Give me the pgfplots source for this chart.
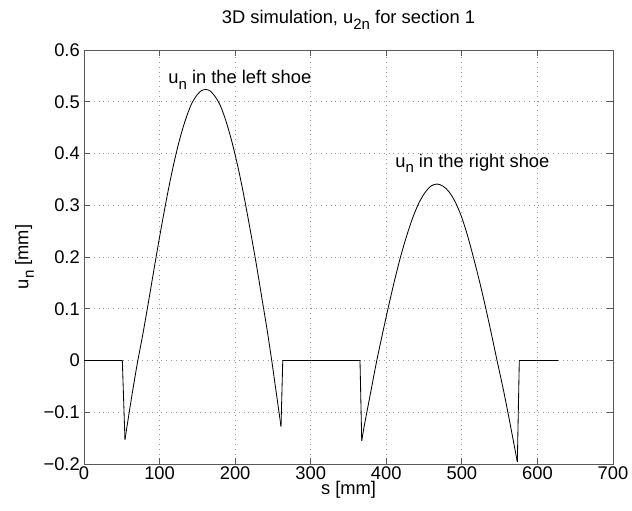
\documentclass[border=0pt]{standalone}
\usepackage{fontspec}
\setmainfont{Liberation Sans}
\usepackage{pgfplots}
\pgfplotsset{compat=1.18}
\newcommand{\fs}{\fontsize{11}{13}\selectfont}
\newcommand{\sub}[1]{\raisebox{-0.55ex}{\fontsize{9}{10}\selectfont #1}}
\begin{document}
\begin{tikzpicture}
\begin{axis}[
  scale only axis,
  width=317.4pt, height=248.4pt,
  xmin=0, xmax=700, ymin=-0.2, ymax=0.6,
  xtick={0,100,...,700},
  ytick={-0.2,-0.1,0,0.1,0.2,0.3,0.4,0.5,0.6},
  yticklabels={−0.2,−0.1,0,0.1,0.2,0.3,0.4,0.5,0.6},
  /pgf/number format/assume math mode=true,
  tick align=inside, tick pos=both,
  major tick length=3.5pt,
  axis line style={black!65, line width=0.6pt},
  every tick/.style={black!65, line width=0.5pt},
  grid=major,
  major grid style={black!40, line width=0.5pt, dash pattern=on 0.5pt off 2.4pt},
  tick label style={font=\fs},
  xticklabel style={yshift=2pt},
  yticklabel style={xshift=1pt},
  label style={font=\fs},
  xlabel={s [mm]},
  ylabel={u\sub{n} [mm]},
  xlabel style={yshift=6pt},
  ylabel style={yshift=-1pt},
  title={3D simulation, u\sub{2n} for section 1},
  title style={font=\fs, yshift=3pt},
  clip=false,
]
\addplot[black, line width=0.5pt, sharp plot] coordinates {
(0,0) (50.7,0) (54.2,-0.153)
};
\addplot[black, line width=0.5pt, smooth, tension=0.5] coordinates {
(54.2,-0.153) (62,-0.08) (70,-0.01) (78,0.052) (86,0.119) (94,0.188) (102,0.255) (110,0.318) (118,0.375) (126,0.424) (134,0.464) (142,0.495) (150,0.514) (156,0.522) (161,0.524) (166,0.522) (172,0.513) (180,0.494) (188,0.462) (196,0.421) (204,0.372) (212,0.315) (220,0.252) (228,0.186) (236,0.115) (242,0.062) (248.4,0) (254,-0.058) (260.7,-0.1275)
};
\addplot[black, line width=0.5pt, sharp plot] coordinates {
(260.7,-0.1275) (263,0) (365.2,0) (367.5,-0.155)
};
\addplot[black, line width=0.5pt, smooth, tension=0.5] coordinates {
(367.5,-0.155) (371,-0.125) (379,-0.064) (387,-0.003) (395,0.052) (403,0.105) (411,0.155) (419,0.201) (427,0.241) (435,0.276) (443,0.304) (451,0.324) (459,0.337) (467,0.341) (475,0.337) (483,0.326) (491,0.307) (499,0.280) (507,0.244) (515,0.201) (523,0.155) (531,0.105) (539,0.052) (547,-0.003) (555,-0.057) (563,-0.116) (573.4,-0.196)
};
\addplot[black, line width=0.5pt, sharp plot] coordinates {
(573.4,-0.196) (576,0) (627.6,0)
};
\node[anchor=base west, font=\fs, inner sep=0pt] at (axis cs:111.2,0.5347) {u\sub{n} in the left shoe};
\node[anchor=base west, font=\fs, inner sep=0pt] at (axis cs:411.5,0.3735) {u\sub{n} in the right shoe};
\end{axis}
\pgfresetboundingbox
\path (current axis.south west) ++(-50.4pt,-27.6pt) coordinate (bbA);
\path (current axis.north east) ++(11.4pt,30pt) coordinate (bbB);
\path[use as bounding box] (bbA) rectangle (bbB);
\end{tikzpicture}
\end{document}
